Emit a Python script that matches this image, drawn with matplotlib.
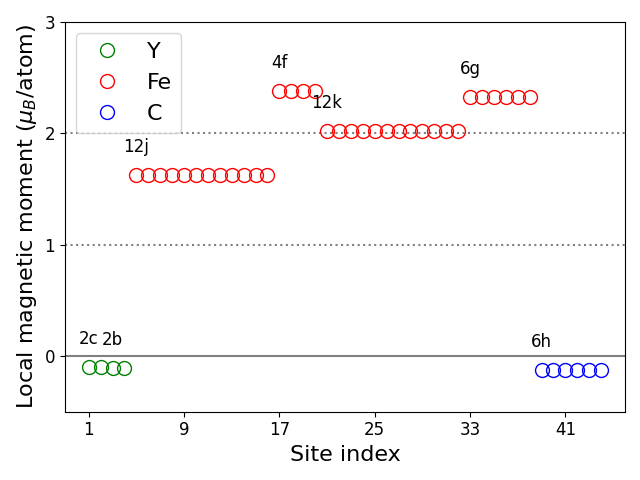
import numpy as np
import matplotlib
matplotlib.use("Agg")
import matplotlib.pyplot as plt

# site groups: (element, wyckoff label, first site, moments)
y_sites = [1, 2, 3, 4]
y_moments = [-0.10, -0.10, -0.11, -0.11]

fe_12j_sites = list(range(5, 17))
fe_12j = [1.625] * 12
fe_4f_sites = [17, 18, 19, 20]
fe_4f = [2.38] * 4
fe_12k_sites = list(range(21, 33))
fe_12k = [2.025] * 12
fe_6g_sites = list(range(33, 39))
fe_6g = [2.33] * 6

c_sites = list(range(39, 45))
c_moments = [-0.125] * 6

labels = ["2c", "2b", "12j", "4f", "12k", "6g", "6h"]
label_sites = [1, 3, 5, 17, 21, 33, 39]
label_vals = [-0.10, -0.11, 1.625, 2.38, 2.025, 2.33, -0.125]

fig, ax = plt.subplots(figsize=(6.4, 4.8), dpi=100)

ax.axhline(0, color="grey", lw=1.5)
ax.axhline(1, color="grey", lw=1.5, ls=":")
ax.axhline(2, color="grey", lw=1.5, ls=":")

mk = dict(marker="o", ls="none", mfc="none", ms=10)
ax.plot(y_sites, y_moments, mec="green", label="Y", **mk)
fe_sites = fe_12j_sites + fe_4f_sites + fe_12k_sites + fe_6g_sites
fe_vals = fe_12j + fe_4f + fe_12k + fe_6g
ax.plot(fe_sites, fe_vals, mec="red", label="Fe", **mk)
ax.plot(c_sites, c_moments, mec="blue", label="C", **mk)

for lab, s, v in zip(labels, label_sites, label_vals):
    ax.text(s, v + 0.25, lab, ha="center", va="center", fontsize=12)

ax.set_xlim(-1, 46)
ax.set_ylim(-0.5, 3)
ax.set_xticks(np.arange(1, 45, 8))
ax.set_yticks([0, 1, 2, 3])
ax.tick_params(labelsize=12)
ax.set_xlabel("Site index", fontsize=16)
ax.set_ylabel(r"Local magnetic moment ($\mu_B$/atom)", fontsize=16)
ax.legend(fontsize=16, loc="upper left")

plt.tight_layout()
plt.savefig("out.png")
